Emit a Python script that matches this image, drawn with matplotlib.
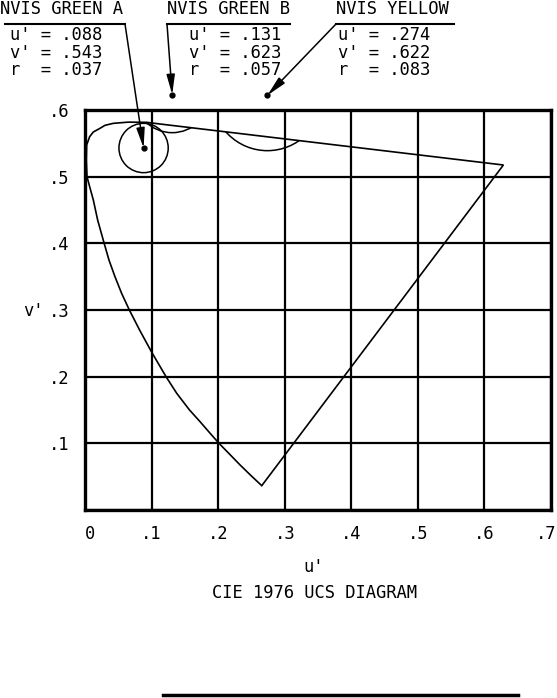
import matplotlib
matplotlib.use("Agg")
import matplotlib.pyplot as plt
import matplotlib.transforms as mtransforms
from matplotlib.patches import Polygon, Circle
from matplotlib.lines import Line2D

W, H = 557, 698
FS = 12.3

# spectrum locus + line of purples (u', v')
locus_u = [0.6285, 0.1127, 0.0927, 0.0650, 0.0425, 0.0300, 0.0225, 0.0125,
           0.0070, 0.0025, 0.0020, 0.0030, 0.0070, 0.0125, 0.0190, 0.0285,
           0.0360, 0.0450, 0.0550, 0.0666, 0.0820, 0.1000, 0.1217, 0.1378,
           0.1570, 0.1728, 0.1880, 0.2013, 0.2160, 0.2330, 0.2500, 0.2655]
locus_v = [0.5175, 0.5790, 0.5815, 0.5818, 0.5800, 0.5770, 0.5725, 0.5670,
           0.5600, 0.5475, 0.5250, 0.5000, 0.4850, 0.4650, 0.4350, 0.4010,
           0.3750, 0.3500, 0.3250, 0.3000, 0.2700, 0.2370, 0.2000, 0.1750,
           0.1500, 0.1325, 0.1150, 0.1000, 0.0850, 0.0675, 0.0510, 0.0365]

# NVIS colour tolerance circles
names = ["NVIS GREEN A", "NVIS GREEN B", "NVIS YELLOW"]
cu = [0.088, 0.131, 0.274]
cv = [0.543, 0.623, 0.622]
cr = [0.037, 0.057, 0.083]

xticks = [0, 0.1, 0.2, 0.3, 0.4, 0.5, 0.6, 0.7]
xlabels = ["0", ".1", ".2", ".3", ".4", ".5", ".6", ".7"]
yticks = [0, 0.1, 0.2, 0.3, 0.4, 0.5, 0.6]
ylabels = ["", ".1", ".2", ".3", ".4", ".5", ".6"]

# label block layout, in pixels from the top-left corner
head_x = [0, 167, 336]
rule_x = [(5, 125), (167, 290), (336, 454)]
val_x = [10, 189, 338]


def px(x, y):
    return (x / W, 1 - y / H)


def short(v):
    return ("%.3f" % v)[1:]


plt.rcParams['font.family'] = ['DejaVu Sans Mono']
plt.rcParams['font.size'] = FS

fig = plt.figure(figsize=(W / 100, H / 100), dpi=100)
ax = fig.add_axes([85 / W, 1 - 510 / H, 466 / W, 400 / H])
ax.set_xlim(0, 0.7)
ax.set_ylim(0, 0.6)
ax.set_xticks(xticks)
ax.set_xticklabels(xlabels)
ax.set_yticks(yticks)
ax.set_yticklabels(ylabels)
ax.tick_params(length=0)
ax.tick_params(axis='x', pad=10.5)
ax.tick_params(axis='y', pad=11)
ax.grid(True, color='k', lw=1.6)
ax.set_axisbelow(True)
for s in ax.spines.values():
    s.set_linewidth(2.4)

# nudge first / last x labels like the plotter did
tl = ax.get_xticklabels()
tl[0].set_transform(tl[0].get_transform() +
                    mtransforms.ScaledTranslation(5 / 100, 0, fig.dpi_scale_trans))
tl[-1].set_horizontalalignment('right')
tl[-1].set_transform(tl[-1].get_transform() +
                     mtransforms.ScaledTranslation(5 / 100, 0, fig.dpi_scale_trans))

locus = Polygon(list(zip(locus_u, locus_v)), closed=True, fill=False,
                ec='k', lw=1.2, zorder=3)
ax.add_patch(locus)

for u, v, r in zip(cu, cv, cr):
    c = Circle((u, v), r, fill=False, ec='k', lw=1.1, zorder=3)
    ax.add_patch(c)
    c.set_clip_path(locus)

ax.plot(cu, cv, 'o', ms=3.5, color='k', clip_on=False, zorder=4)

for i in range(3):
    fig.text(*px(head_x[i], 9), names[i], ha='left', va='center')
    x0, x1 = rule_x[i]
    fig.add_artist(Line2D([x0 / W, x1 / W], [1 - 24 / H] * 2, color='k', lw=1.5))
    rows = ["u' = " + short(cu[i]), "v' = " + short(cv[i]), "r  = " + short(cr[i])]
    for j, t in enumerate(rows):
        fig.text(*px(val_x[i], 35 + 17.5 * j), t, ha='left', va='center')
    start = x1 if i == 0 else x0
    ax.annotate("", xy=(cu[i], cv[i]), xycoords='data',
                xytext=px(start, 24), textcoords='figure fraction',
                arrowprops=dict(arrowstyle='-|>,head_length=1.2,head_width=0.25',
                                mutation_scale=10, color='k', lw=1.1,
                                shrinkA=0, shrinkB=0),
                annotation_clip=False)

fig.text(*px(33, 311), "v'", ha='center', va='center')
fig.text(*px(314, 567), "u'", ha='center', va='center')
fig.text(*px(315, 593), "CIE 1976 UCS DIAGRAM", ha='center', va='center')
fig.add_artist(Line2D([163 / W, 518 / W], [1 - 695 / H] * 2, color='k', lw=2.5))

fig.savefig("out.png", dpi=100)
